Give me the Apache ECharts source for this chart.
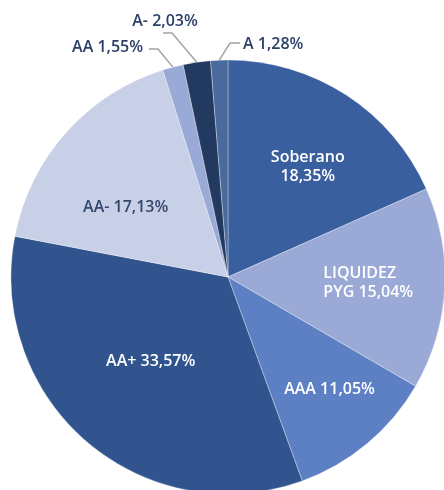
<!DOCTYPE html>
<html>
<head>
<meta charset="utf-8">
<script src="https://cdn.jsdelivr.net/npm/echarts@6/dist/echarts.min.js"></script>
<style>
  html, body { margin: 0; padding: 0; background: #fff; }
  #chart { width: 444px; height: 490px; }
</style>
</head>
<body>
<div id="chart"></div>
<script>
// datos de la composicion de cartera (%)
var categories = ['Soberano', 'LIQUIDEZ\nPYG', 'AAA', 'AA+', 'AA-', 'AA', 'A-', 'A'];
var values = [18.35, 15.04, 11.05, 33.57, 17.13, 1.55, 2.03, 1.28];
var colors = ['#3a5f9f', '#9aa9d5', '#5d7fc3', '#31548e', '#c8d0e7', '#9aaad6', '#233a60', '#4a6a9e'];

// etiquetas internas: desplazamiento respecto a la posicion por defecto
var innerShift = [[19, -17], [-16, 0], [30, 27], [-5, 0], [-19, 5]];
// etiquetas externas: codo de la linea, fin de la linea, texto
var outerLines = {
    5: {elbow: [158, 49], end: [149, 49], text: [143, 47], align: 'right'},
    6: {elbow: [172, 33], end: [163, 33], text: [165, 21], align: 'center'},
    7: {elbow: [230, 43], end: [240, 43], text: [243, 44], align: 'left'}
};

function fmt(v){
    return v.toFixed(2).replace('.', ',') + '%';
}

var data = [];
for(var i = 0; i < values.length; i++){
    var item = {
        name: categories[i],
        value: values[i],
        itemStyle: {color: colors[i]}
    };
    if(i >= 5){
        item.label = {position: 'outside', color: '#2c4068', overflow: 'none'};
        item.labelLine = {show: true};
    }else if(i == 4){
        item.label = {color: '#34476c'};
    }
    data.push(item);
}

var chart = echarts.init(document.getElementById('chart'));
chart.setOption({
    animation: false,
    series: [{
        type: 'pie',
        center: [228, 277],
        radius: 217,
        startAngle: 90,
        clockwise: true,
        itemStyle: {
            borderColor: 'rgba(255,255,255,0.55)',
            borderWidth: 0.6
        },
        label: {
            show: true,
            position: 'inside',
            color: '#ffffff',
            fontFamily: 'Open Sans',
            fontSize: 16,
            fontWeight: 600,
            lineHeight: 19,
            overflow: 'none',
            formatter: function(p){
                if(p.dataIndex == 0){
                    return p.name + '\n' + fmt(p.value);
                }
                return p.name + ' ' + fmt(p.value);
            }
        },
        labelLine: {
            show: false,
            lineStyle: {color: '#a3a3a3', width: 1.5}
        },
        labelLayout: function(params){
            var idx = params.dataIndex;
            var o = outerLines[idx];
            if(o){
                var start = params.labelLinePoints ? params.labelLinePoints[0] : o.elbow;
                return {
                    x: o.text[0],
                    y: o.text[1],
                    align: o.align,
                    verticalAlign: 'middle',
                    labelLinePoints: [start, o.elbow, o.end]
                };
            }
            var s = innerShift[idx];
            if(idx == 1){
                var r = params.labelRect;
                return {
                    x: r.x + r.width / 2 + s[0],
                    y: r.y + r.height / 2 + s[1],
                    align: 'left',
                    verticalAlign: 'middle'
                };
            }
            return {dx: s[0], dy: s[1]};
        },
        data: data
    }]
});
</script>
</body>
</html>
